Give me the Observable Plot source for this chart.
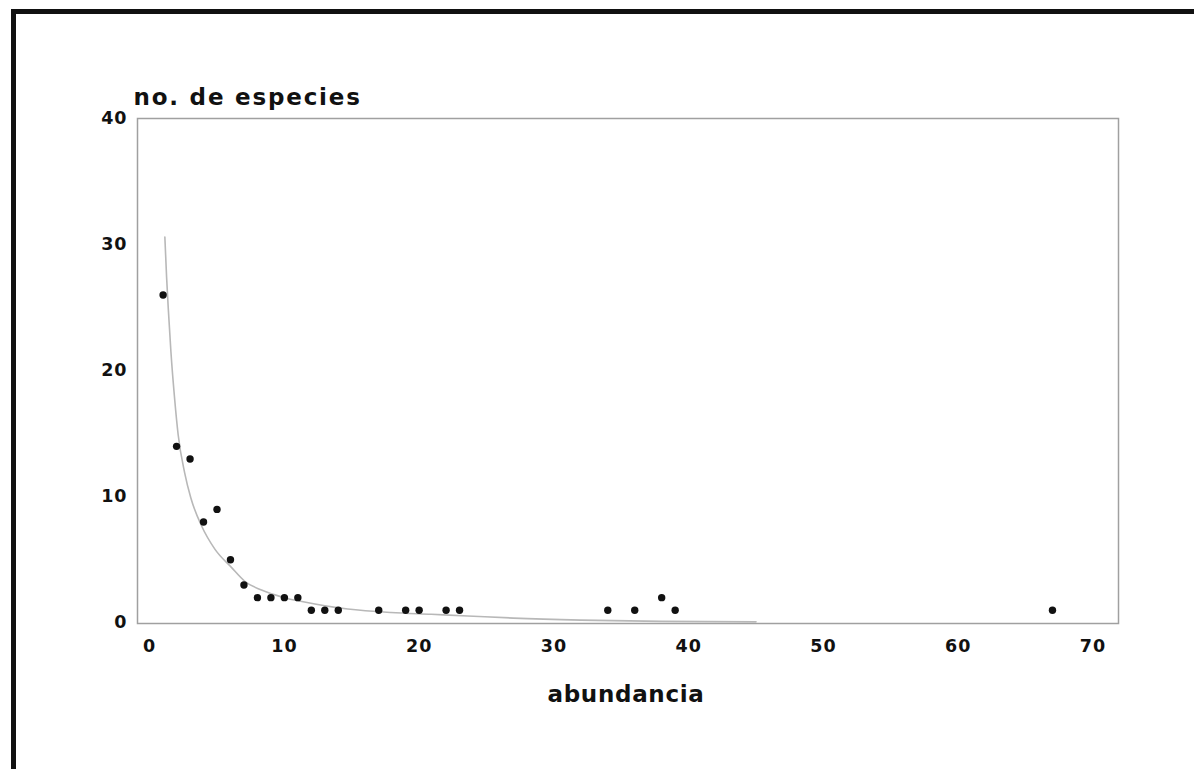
<!DOCTYPE html>
<html>
<head>
<meta charset="utf-8">
<script src="https://cdn.jsdelivr.net/npm/d3@7"></script>
<script src="https://cdn.jsdelivr.net/npm/@observablehq/plot@0.6"></script>
<style>
  html, body { margin: 0; padding: 0; background: #fff; }
  #wrap { position: relative; width: 1194px; height: 769px; overflow: hidden; }
  #border { position: absolute; left: 11px; top: 9px; width: 1300px; height: 900px;
            border-left: 5px solid #111; border-top: 5px solid #111; }
  #chart { position: absolute; left: 0; top: 0; }
  #chart svg { font-family: "DejaVu Sans", sans-serif; }
</style>
</head>
<body>
<div id="wrap"><div id="border"></div><div id="chart"></div></div>
<script>
// observed points: abundance (x) vs number of species (y)
const abundance = [1, 2, 3, 4, 5, 6, 7, 8, 9, 10, 11, 12, 13, 14, 17, 19, 20, 22, 23, 34, 36, 38, 39, 67];
const species   = [26, 14, 13, 8, 9, 5, 3, 2, 2, 2, 2, 1, 1, 1, 1, 1, 1, 1, 1, 1, 1, 2, 1, 1];

// fitted curve
const curveX = [1.13, 1.26, 1.38, 1.58, 1.87, 2.12, 2.6, 3.06, 3.85, 4.84, 6.07, 7.06, 8.3, 10, 11.3, 14.7, 17.9, 20.9, 23.6, 27, 32, 38, 45];
const curveY = [30.6, 27.4, 25.0, 21.5, 17.6, 14.9, 11.9, 9.9, 7.7, 5.85, 4.4, 3.3, 2.6, 2.0, 1.7, 1.1, 0.82, 0.68, 0.55, 0.38, 0.22, 0.12, 0.08];

const xTicks = [0, 10, 20, 30, 40, 50, 60, 70];
const yTicks = [0, 10, 20, 30, 40];
const xLabel = "abundancia";
const yLabel = "no. de especies";

const points = abundance.map((a, i) => ({x: a, y: species[i]}));
const curve = curveX.map((a, i) => ({x: a, y: curveY[i]}));

const chart = Plot.plot({
  width: 1194,
  height: 769,
  marginLeft: 137,
  marginRight: 76,
  marginTop: 118,
  marginBottom: 146,
  style: {fontFamily: "DejaVu Sans, sans-serif", background: "transparent"},
  x: {domain: [-0.9, 71.9]},
  y: {domain: [-0.05, 40]},
  marks: [
    Plot.frame({stroke: "#a0a0a0", strokeWidth: 1.5}),
    Plot.axisX(xTicks, {tickSize: 0, tickPadding: 16, fontSize: 17.5, fontWeight: "bold", fill: "#111", label: null}),
    Plot.axisY(yTicks, {tickSize: 0, tickPadding: 10, fontSize: 17.5, fontWeight: "bold", fill: "#111", label: null}),
    Plot.line(curve, {x: "x", y: "y", stroke: "#b8b8b8", strokeWidth: 1.6, curve: "monotone-x"}),
    Plot.dot(points, {x: "x", y: "y", r: 3.7, fill: "#111", stroke: "none"}),
    Plot.text([yLabel], {frameAnchor: "top-left", dx: -4, dy: -21, textAnchor: "start", lineAnchor: "middle",
      fontSize: 23, fontWeight: "bold", fill: "#111"}),
    Plot.text([xLabel], {frameAnchor: "bottom", dy: 71, dx: -2, lineAnchor: "middle",
      fontSize: 23, fontWeight: "bold", fill: "#111"})
  ]
});
// letter spacing to match the wide lettering of the original
d3.select(chart).selectAll("text").each(function () {
  const t = this.textContent;
  if (t === yLabel) this.setAttribute("letter-spacing", "1.8");
  else if (t === xLabel) this.setAttribute("letter-spacing", "0.7");
  else if (/^\d+$/.test(t)) this.setAttribute("letter-spacing", "1");
});
document.getElementById("chart").appendChild(chart);
</script>
</body>
</html>
